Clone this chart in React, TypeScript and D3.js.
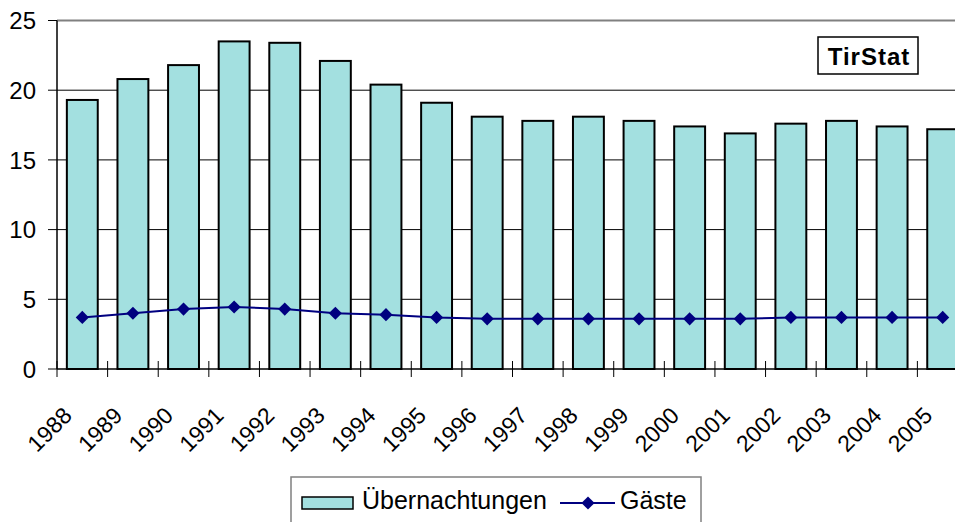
import { useEffect, useRef } from "react";
import * as d3 from "d3";

const years = ["1988","1989","1990","1991","1992","1993","1994","1995","1996","1997","1998","1999","2000","2001","2002","2003","2004","2005"];
const uebernachtungen = [19.3,20.8,21.8,23.5,23.4,22.1,20.4,19.1,18.1,17.8,18.1,17.8,17.4,16.9,17.6,17.8,17.4,17.2];
const gaeste = [3.7,4.0,4.3,4.45,4.3,4.0,3.9,3.7,3.6,3.6,3.6,3.6,3.6,3.6,3.7,3.7,3.7,3.7];
const yTicks = [0,5,10,15,20,25];

const App = () => {
  const ref = useRef<SVGSVGElement>(null);

  useEffect(() => {
    const width = 955;
    const height = 522;
    const left = 57, right = 968, top = 20.5, bottom = 369;
    const font = "Arial, 'Liberation Sans', sans-serif";

    const svg = d3.select(ref.current).attr("width", width).attr("height", height);
    svg.selectAll("*").remove();

    const x = d3.scaleBand().domain(years).range([left, right]).paddingInner(0.35).paddingOuter(0.175);
    const y = d3.scaleLinear().domain([0, 25]).range([bottom, top]);
    const step = x.step();

    // gridlines
    svg.selectAll("line.grid")
      .data(yTicks.filter((d) => d > 0))
      .enter()
      .append("line")
      .attr("x1", left).attr("x2", right)
      .attr("y1", (d) => y(d)).attr("y2", (d) => y(d))
      .attr("stroke", (d) => (d === 25 ? "#808080" : "#000"))
      .attr("stroke-width", (d) => (d === 25 ? 2 : 1));

    // bars
    svg.selectAll("rect.bar")
      .data(uebernachtungen)
      .enter()
      .append("rect")
      .attr("x", (d, i) => x(years[i])! + 1)
      .attr("width", x.bandwidth() - 2)
      .attr("y", (d) => y(d))
      .attr("height", (d) => bottom - y(d))
      .attr("fill", "#A3E0E0")
      .attr("stroke", "#000")
      .attr("stroke-width", 2);

    // axes
    svg.append("line").attr("x1", left).attr("x2", left).attr("y1", top).attr("y2", bottom)
      .attr("stroke", "#000").attr("stroke-width", 1.5);
    svg.append("line").attr("x1", left).attr("x2", right).attr("y1", bottom).attr("y2", bottom)
      .attr("stroke", "#000").attr("stroke-width", 1.5);

    svg.selectAll("line.ytick")
      .data(yTicks)
      .enter()
      .append("line")
      .attr("x1", left - 9).attr("x2", left)
      .attr("y1", (d) => y(d)).attr("y2", (d) => y(d))
      .attr("stroke", "#000");

    svg.selectAll("text.ylab")
      .data(yTicks)
      .enter()
      .append("text")
      .attr("x", 36)
      .attr("y", (d) => y(d))
      .attr("dy", "0.36em")
      .attr("text-anchor", "end")
      .style("font-family", font)
      .style("font-size", "24px")
      .text((d) => d);

    // x ticks at category boundaries (crossing the axis)
    svg.selectAll("line.xtick")
      .data(d3.range(years.length + 1))
      .enter()
      .append("line")
      .attr("x1", (i) => left + i * step).attr("x2", (i) => left + i * step)
      .attr("y1", bottom - 8).attr("y2", bottom + 8)
      .attr("stroke", "#000");

    svg.selectAll("text.xlab")
      .data(years)
      .enter()
      .append("text")
      .attr("transform", (d) => `translate(${x(d)! + x.bandwidth() / 2 - 9}, 417) rotate(-45)`)
      .attr("text-anchor", "end")
      .style("font-family", font)
      .style("font-size", "23px")
      .text((d) => d);

    // Gäste line
    const line = d3.line<number>()
      .x((d, i) => x(years[i])! + x.bandwidth() / 2)
      .y((d) => y(d));
    svg.append("path")
      .attr("d", line(gaeste))
      .attr("fill", "none")
      .attr("stroke", "#000080")
      .attr("stroke-width", 2);

    const diamond = d3.symbol().type(d3.symbolDiamond2).size(110);
    svg.selectAll("path.marker")
      .data(gaeste)
      .enter()
      .append("path")
      .attr("d", diamond)
      .attr("transform", (d, i) => `translate(${x(years[i])! + x.bandwidth() / 2}, ${y(d)})`)
      .attr("fill", "#000080");

    // TirStat label
    svg.append("rect")
      .attr("x", 818).attr("y", 37).attr("width", 100).attr("height", 37)
      .attr("fill", "#fff").attr("stroke", "#000").attr("stroke-width", 1.5);
    svg.append("text")
      .attr("x", 869).attr("y", 65)
      .attr("text-anchor", "middle")
      .style("font-family", font)
      .style("font-size", "24px")
      .style("font-weight", "700")
      .style("letter-spacing", "1px")
      .text("TirStat");

    // legend
    svg.append("rect")
      .attr("x", 291).attr("y", 477).attr("width", 410).attr("height", 60)
      .attr("fill", "#fff").attr("stroke", "#808080").attr("stroke-width", 1.5);
    svg.append("rect")
      .attr("x", 302).attr("y", 497).attr("width", 51).attr("height", 12)
      .attr("fill", "#A3E0E0").attr("stroke", "#000").attr("stroke-width", 1.5);
    svg.append("text")
      .attr("x", 362).attr("y", 509)
      .style("font-family", font)
      .style("font-size", "25px")
      .text("Übernachtungen");
    svg.append("line")
      .attr("x1", 560).attr("x2", 615).attr("y1", 503).attr("y2", 503)
      .attr("stroke", "#000080").attr("stroke-width", 2);
    svg.append("path")
      .attr("d", diamond)
      .attr("transform", "translate(588, 503)")
      .attr("fill", "#000080");
    svg.append("text")
      .attr("x", 620).attr("y", 509)
      .style("font-family", font)
      .style("font-size", "25px")
      .text("Gäste");
  }, []);

  return (
    <svg ref={ref} style={{ position: "absolute", left: 0, top: 0, background: "#fff" }}></svg>
  );
};

export default App;
